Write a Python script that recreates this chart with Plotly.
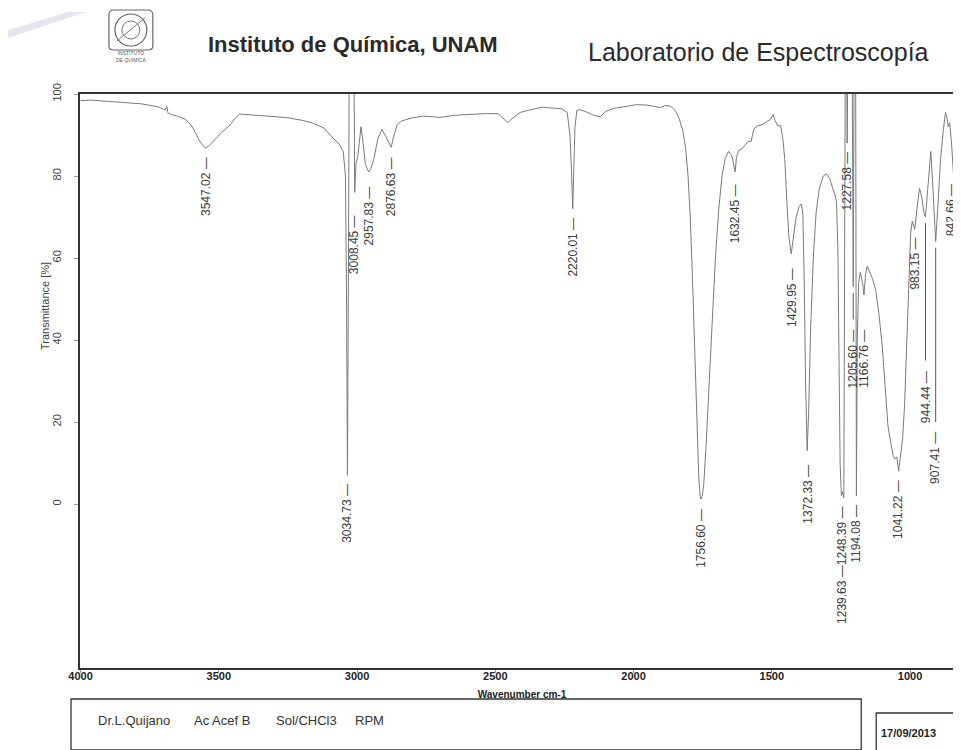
import plotly.graph_objects as go

# ---------------- data ----------------
wavenumber = [
    4000, 3960, 3900, 3840, 3780, 3720, 3695, 3688, 3684, 3676, 3650, 3620, 3600, 3585, 3570, 3555,
    3547.02, 3535, 3515, 3490, 3460, 3440, 3425, 3400, 3350, 3300, 3250, 3200, 3160, 3120, 3090,
    3065, 3050, 3042, 3038, 3036, 3034.73, 3031, 3028, 3020, 3013, 3010, 3008.45, 3004, 2998, 2992,
    2986, 2980, 2970, 2962, 2957.83, 2950, 2940, 2925, 2910, 2895, 2885, 2876.63, 2868, 2855, 2840,
    2800, 2760, 2700, 2650, 2600, 2540, 2490, 2470, 2455, 2440, 2410, 2370, 2330, 2300, 2260, 2240,
    2230, 2225, 2220.01, 2216, 2212, 2205, 2195, 2170, 2140, 2120, 2100, 2070, 2030, 1990, 1950,
    1920, 1905, 1885, 1865, 1850, 1835, 1822, 1812, 1803, 1795, 1787, 1779, 1771, 1764, 1759,
    1756.60, 1752, 1746, 1738, 1728, 1716, 1704, 1692, 1680, 1668, 1656, 1645, 1638, 1632.45, 1628,
    1620, 1608, 1596, 1585, 1575, 1565, 1550, 1535, 1520, 1505, 1495, 1488, 1478, 1468, 1460, 1453,
    1446, 1438, 1429.95, 1422, 1412, 1402, 1394, 1388, 1383, 1378, 1372.33, 1367, 1360, 1350, 1340,
    1328, 1314, 1302, 1290, 1280, 1272, 1266, 1261, 1257, 1253, 1248.39, 1244, 1239.63, 1237, 1234,
    1230, 1227.58, 1224, 1210, 1205.60, 1202, 1197, 1194.08, 1191, 1186, 1180, 1172, 1166.76, 1161,
    1155, 1146, 1136, 1124, 1112, 1100, 1090, 1080, 1070, 1062, 1055, 1048, 1041.22, 1034, 1027,
    1020, 1012, 1004, 998, 992, 987, 983.15, 975, 966, 958, 950, 944.44, 938, 930, 925, 918, 912,
    907.41, 900, 890, 880, 872, 866, 862, 857, 850, 842.66, 836, 828, 820, 812, 805,
]
transmittance = [
    98.4, 98.5, 98.2, 97.9, 97.6, 96.9, 96.1, 97.0, 95.4, 95.1, 94.6, 93.8, 92.4, 90.6, 88.6, 87.2,
    86.8, 87.4, 88.9, 90.6, 92.4, 94.2, 95.1, 95.0, 94.8, 94.5, 94.2, 93.6, 92.9, 91.7, 89.5,
    87.8, 86.0, 80.0, 50.0, 25.0, 7.0, 60.0, 115, 115, 115, 95, 76, 83, 84.5, 88,
    92, 89, 83, 81.5, 81, 81.8, 84, 89, 91.4, 89.5, 88, 87, 89.5, 92.5, 93.4,
    94.2, 94.6, 94.3, 94.8, 95.0, 95.2, 95.2, 94.0, 93.0, 94.0, 95.5, 96.2, 96.8, 96.6, 96.4, 95.5,
    90, 82, 72, 82, 92, 96, 96.2, 95.6, 94.7, 94.5, 95.8, 96.5, 97.0, 97.4, 97.3,
    96.9, 96.7, 97.2, 97.0, 96.0, 94.0, 91.0, 87.0, 80.0, 70, 55, 38, 20, 6, 2,
    1.2, 1.8, 5, 14, 28, 44, 60, 72, 80, 84.5, 86, 85, 83, 81, 84.5,
    86.2, 86.6, 87.5, 88.5, 88.4, 91.5, 92.3, 92.5, 93.2, 93.8, 95.0, 93.5, 92.2, 92.3, 89.0, 84.0,
    74.0, 65.0, 61.0, 64.5, 70, 72.5, 73.2, 71, 55, 30, 13, 22, 42, 60, 71,
    77, 80, 80.5, 79.3, 77.0, 75.5, 73.5, 62, 35, 10, 2.0, 3.0, 1.5, 50, 115,
    115, 88, 115, 115, 53, 115, 115, 2, 40, 54, 56.5, 54, 51, 56,
    58, 56.5, 55, 52, 46, 38, 28, 19, 15, 12, 11, 11.5, 8, 12, 16,
    24, 40, 58, 66, 69, 67.5, 67, 72, 77, 75, 71, 70, 76, 83, 86, 78, 68,
    64, 72, 84, 91, 95.5, 94, 92, 93, 88, 80, 83, 88, 91, 90, 92,
]

peak_labels = ["3547.02", "3034.73", "3008.45", "2957.83", "2876.63", "2220.01", "1756.60",
               "1632.45", "1429.95", "1372.33", "1239.63 \u20141248.39", "1227.58", "1205.60",
               "1166.76", "1194.08", "1041.22", "983.15", "944.44", "907.41", "842.66"]
peak_positions = [3547.02, 3034.73, 3008.45, 2957.83, 2876.63, 2220.01, 1756.60,
                  1632.45, 1429.95, 1372.33, 1244.0, 1227.58, 1205.60,
                  1166.76, 1194.08, 1041.22, 983.15, 944.44, 907.41, 842.66]
peak_minima = [86.8, 7.0, 76, 81, 87, 72, 1.2, 81, 61, 13, 1.5, 88, 53, 51, 2, 8, 67, 70, 64, 80]
# label placement (top of each rotated label, in %T) and small pixel nudges
label_tops = [85.2, 5.4, 71.0, 78.0, 85.0, 70.4, -0.6, 78.4, 58.0, 10.0, -0.2, 86.4, 43.0,
              43.0, 0.4, 6.4, 65.4, 33.0, 18.0, 78.4]
label_nudge = [0, 0, 0, 0, 0, 0, 0, 0, 0, 0, 0, 0, 0, 0, 0, 0, 0, 0, 0, -3]

x_ticks = [4000, 3500, 3000, 2500, 2000, 1500, 1000]
y_ticks = [0, 20, 40, 60, 80, 100]
x_range = [4002, 805]
y_range = [-40, 100]

# ---------------- layout geometry ----------------
W, H = 961, 750
ML, MR, MT, MB = 72, 3, 86, 90
PW = W - ML - MR
PH = H - MT - MB


def px(x):
    return (x - ML) / PW


def py(y):
    return 1 - (y - MT) / PH


FONT = "Liberation Sans, Arial, sans-serif"
INK = "#333333"

fig = go.Figure()
fig.add_trace(go.Scatter(x=wavenumber, y=transmittance, mode="lines",
                         line=dict(color="#7a7a7a", width=1), hoverinfo="skip",
                         showlegend=False))

annotations = []
shapes = []

# peak labels with leader dashes
for lab, xpos, ymin, ytop, nud in zip(peak_labels, peak_positions, peak_minima, label_tops,
                                      label_nudge):
    annotations.append(dict(x=xpos, y=ytop, xref="x", yref="y", text=lab + " \u2014",
                            textangle=-90, showarrow=False, xanchor="center", yanchor="top",
                            xshift=nud,
                            font=dict(family=FONT, size=12, color="#3c3c3c")))
    if ymin - ytop > 8:
        shapes.append(dict(type="line", xref="x", yref="y", x0=xpos, x1=xpos,
                           y0=ymin - 1.5, y1=ytop + 2, line=dict(color="#555", width=1)))


def paper_text(text, x, y, size, color="#2a2a2a", xanchor="center", angle=0):
    annotations.append(dict(x=px(x), y=py(y), xref="paper", yref="paper", text=text,
                            showarrow=False, xanchor=xanchor, yanchor="middle",
                            textangle=angle,
                            font=dict(family=FONT, size=size, color=color)))


# header
paper_text("<b>Instituto de Química, UNAM</b>", 346, 36, 22)
paper_text("Laboratorio de Espectroscopía", 752, 44, 25)
paper_text("INSTITUTO<br>DE QUIMICA", 123, 48, 5, color="#555")
# y-axis title
paper_text("Transmittance [%]", 37, 298, 11, color="#444", angle=-90)

# logo
shapes.append(dict(type="path", xref="paper", yref="paper",
                   path=(f"M {px(106)},{py(2)} L {px(140)},{py(2)} Q {px(145)},{py(2)} {px(145)},{py(7)} "
                         f"L {px(145)},{py(38)} Q {px(145)},{py(42)} {px(140)},{py(42)} "
                         f"L {px(106)},{py(42)} Q {px(101)},{py(42)} {px(101)},{py(38)} "
                         f"L {px(101)},{py(7)} Q {px(101)},{py(2)} {px(106)},{py(2)} Z"),
                   line=dict(color="#666", width=1.2)))
shapes.append(dict(type="circle", xref="paper", yref="paper", x0=px(107), x1=px(139),
                   y0=py(38), y1=py(6), line=dict(color="#666", width=1.2)))
shapes.append(dict(type="circle", xref="paper", yref="paper", x0=px(114), x1=px(132),
                   y0=py(31), y1=py(13), line=dict(color="#777", width=1)))
shapes.append(dict(type="line", xref="paper", yref="paper", x0=px(109), x1=px(137),
                   y0=py(33), y1=py(10), line=dict(color="#777", width=1)))
# scan streak top-left
shapes.append(dict(type="path", xref="paper", yref="paper",
                   path=f"M {px(0)},{py(30)} L {px(78)},{py(4)} L {px(60)},{py(4)} L {px(0)},{py(22)} Z",
                   fillcolor="#e3e6ee", line=dict(width=0)))

# footer boxes
shapes.append(dict(type="rect", xref="paper", yref="paper", x0=px(63), x1=px(855),
                   y0=py(742), y1=py(691), line=dict(color="#333", width=1.3)))
shapes.append(dict(type="rect", xref="paper", yref="paper", x0=px(870), x1=px(975),
                   y0=py(760), y1=py(705), line=dict(color="#333", width=1.3)))
for txt, xx in [("Dr.L.Quijano", 88), ("Ac Acef B", 184), ("Sol/CHCl3", 266), ("RPM", 346)]:
    paper_text(txt, xx, 712, 13, color="#333", xanchor="left")
paper_text("<b>17/09/2013</b>", 873, 725, 11, color="#222", xanchor="left")

fig.update_layout(
    width=W, height=H, margin=dict(l=ML, r=MR, t=MT, b=MB),
    paper_bgcolor="white", plot_bgcolor="white",
    annotations=annotations, shapes=shapes, showlegend=False,
    xaxis=dict(range=x_range, tickvals=x_ticks, ticktext=[f"<b>{t}</b>" for t in x_ticks],
               showgrid=False, zeroline=False, showline=True, mirror=True,
               linecolor=INK, linewidth=1.5, ticks="outside", ticklen=3, tickcolor="#999",
               ticklabelstandoff=-6,
               tickfont=dict(family=FONT, size=11, color="#222"),
               title=dict(text="<b>Wavenumber cm-1</b>", standoff=10,
                          font=dict(family=FONT, size=10, color="#222"))),
    yaxis=dict(range=y_range, tickvals=y_ticks, showgrid=False, zeroline=False,
               showline=True, mirror=True, linecolor=INK, linewidth=1.5,
               ticks="outside", ticklen=4, tickcolor="#999", tickangle=-90,
               ticklabelstandoff=9,
               tickfont=dict(family=FONT, size=11, color="#444")),
)

fig.write_html("out.html")
